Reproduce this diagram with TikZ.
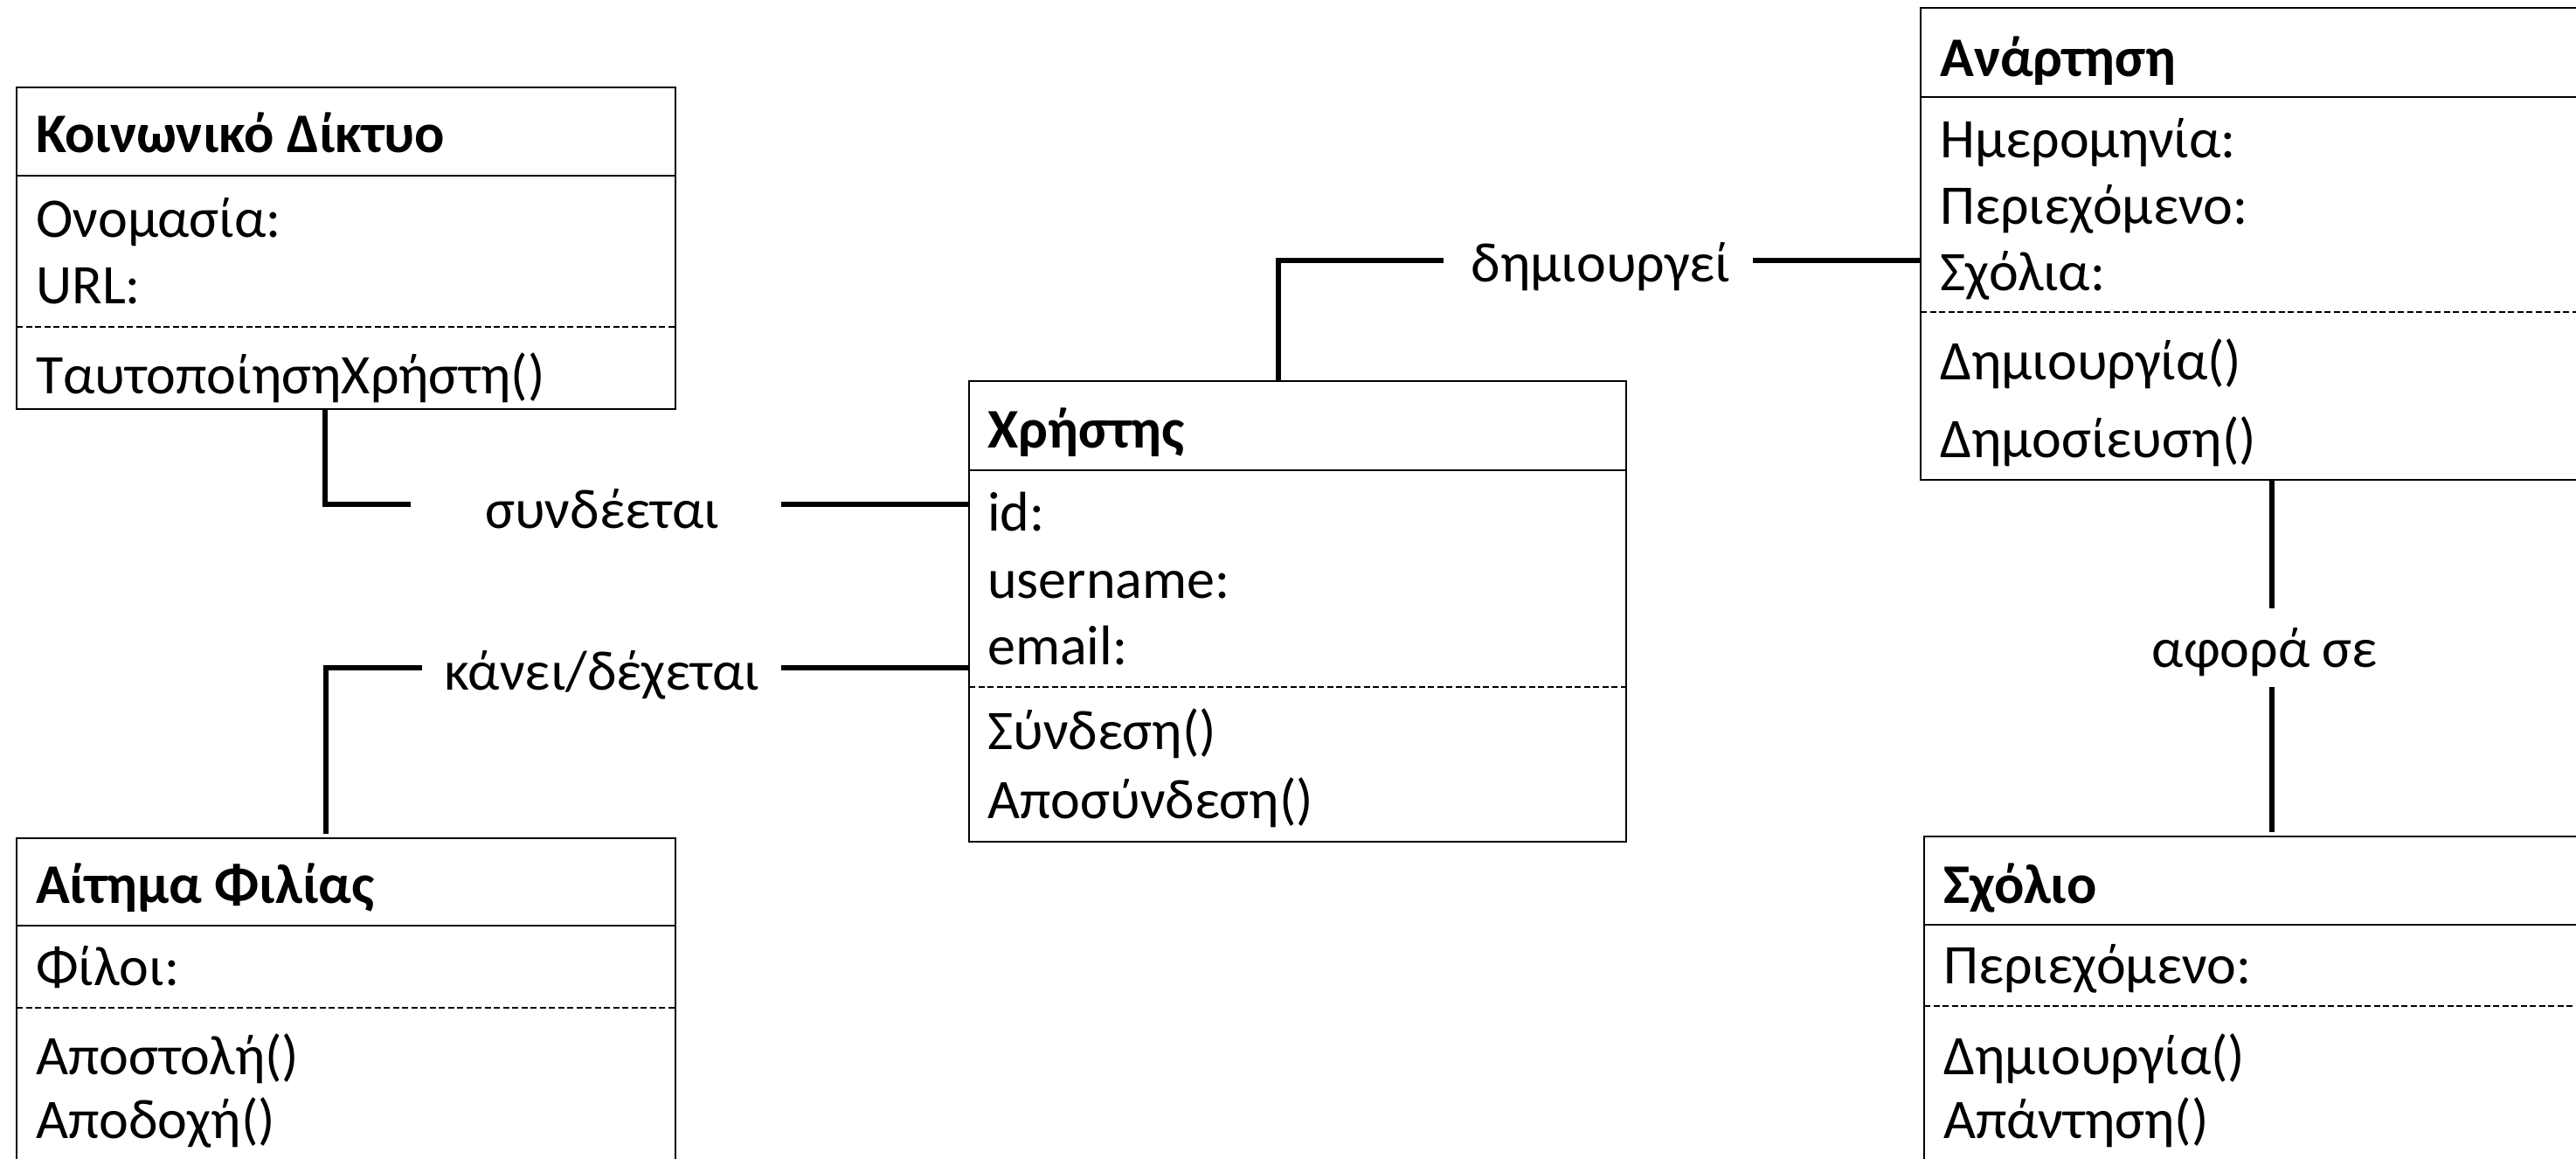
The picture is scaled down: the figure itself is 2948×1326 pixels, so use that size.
\documentclass[tikz,border=0pt]{standalone}
\usepackage{fontspec}
\setmainfont{Carlito}
\begin{document}
\begin{tikzpicture}[x=1bp,y=-1bp,
  every node/.style={font=\fontsize{64bp}{76bp}\selectfont},
  box/.style={draw, line width=2.8bp, anchor=north west, inner sep=0pt, outer sep=0pt},
  title/.style={anchor=base west, inner sep=0pt, font=\fontsize{64bp}{76bp}\selectfont\bfseries},
  entry/.style={anchor=base west, inner sep=0pt},
  rule/.style={line width=2.8bp},
  dashrule/.style={line width=2bp, dash pattern=on 7bp off 3.5bp},
  link/.style={line width=5.5bp},
  linklabel/.style={anchor=base, inner sep=0pt}
]
\useasboundingbox (0,0) rectangle (2948,1326);
\clip (0,0) rectangle (2948,1326);

% --- class boxes ---
\node[box, minimum width=754bp, minimum height=368bp] (net) at (19,100) {};
\node[box, minimum width=752bp, minimum height=527bp] (user) at (1109,436) {};
\node[box, minimum width=800bp, minimum height=540bp] (post) at (2198,9) {};
\node[box, minimum width=800bp, minimum height=450bp] (comment) at (2202,957) {};
\node[box, minimum width=754bp, minimum height=450bp] (friend) at (19,959) {};

% --- compartments ---
\draw[rule] (net.west |- 0,201) -- (net.east |- 0,201);
\draw[dashrule] (net.west |- 0,374) -- (net.east |- 0,374);
\draw[rule] (user.west |- 0,538) -- (user.east |- 0,538);
\draw[dashrule] (user.west |- 0,786) -- (user.east |- 0,786);
\draw[rule] (post.west |- 0,111) -- (post.east |- 0,111);
\draw[dashrule] (post.west |- 0,357) -- (post.east |- 0,357);
\draw[rule] (comment.west |- 0,1058) -- (comment.east |- 0,1058);
\draw[dashrule] (comment.west |- 0,1151) -- (comment.east |- 0,1151);
\draw[rule] (friend.west |- 0,1059) -- (friend.east |- 0,1059);
\draw[dashrule] (friend.west |- 0,1153) -- (friend.east |- 0,1153);

% --- Κοινωνικό Δίκτυο ---
\node[title] (netT) at (41,175) {Κοινωνικό Δίκτυο};
\node[entry] (netA1) at (41,272) {Ονομασία:};
\node[entry] (netA2) at (41,348) {URL:};
\node[entry] (netM1) at (41,450) {ΤαυτοποίησηΧρήστη()};

% --- Χρήστης ---
\node[title] (userT) at (1130,512) {Χρήστης};
\node[entry] (userA1) at (1130,607) {id:};
\node[entry] (userA2) at (1130,684) {username:};
\node[entry] (userA3) at (1130,760) {email:};
\node[entry] (userM1) at (1130,857) {Σύνδεση()};
\node[entry] (userM2) at (1130,936) {Αποσύνδεση()};

% --- Ανάρτηση ---
\node[title] (postT) at (2220,88) {Ανάρτηση};
\node[entry] (postA1) at (2220,181) {Ημερομηνία:};
\node[entry] (postA2) at (2220,257) {Περιεχόμενο:};
\node[entry] (postA3) at (2220,333) {Σχόλια:};
\node[entry] (postM1) at (2220,434) {Δημιουργία()};
\node[entry] (postM2) at (2220,523) {Δημοσίευση()};

% --- Σχόλιο ---
\node[title] (comT) at (2224,1033) {Σχόλιο};
\node[entry] (comA1) at (2224,1125) {Περιεχόμενο:};
\node[entry] (comM1) at (2224,1229) {Δημιουργία()};
\node[entry] (comM2) at (2224,1302) {Απάντηση()};

% --- Αίτημα Φιλίας ---
\node[title] (friT) at (41,1033) {Αίτημα Φιλίας};
\node[entry] (friA1) at (41,1127) {Φίλοι:};
\node[entry] (friM1) at (41,1229) {Αποστολή()};
\node[entry] (friM2) at (41,1302) {Αποδοχή()};

% --- association labels ---
\node[linklabel] (lconn) at (689,604) {συνδέεται};
\node[linklabel] (lreq) at (689,789) {κάνει/δέχεται};
\node[linklabel] (lcreate) at (1832,323) {δημιουργεί};
\node[linklabel] (labout) at (2592,763) {αφορά σε};

% --- associations ---
\coordinate (b1) at (372,577); \coordinate (e1) at (470,577); \coordinate (s1) at (894,577);
\draw[link] (b1 |- net.south) -- (b1) -- (e1);
\draw[link] (s1) -- (s1 -| user.west);

\coordinate (b2) at (373,764); \coordinate (e2) at (483,764); \coordinate (s2) at (894,764);
\draw[link, shorten <=5bp] (b2 |- friend.north) -- (b2) -- (e2);
\draw[link] (s2) -- (s2 -| user.west);

\coordinate (b3) at (1463,298); \coordinate (e3) at (1652,298); \coordinate (s3) at (2006,298);
\draw[link] (b3 |- user.north) -- (b3) -- (e3);
\draw[link] (s3) -- (s3 -| post.west);

\coordinate (b4) at (2600,696); \coordinate (s4) at (2600,786);
\draw[link] (b4 |- post.south) -- (b4);
\draw[link, shorten >=5bp] (s4) -- (s4 |- comment.north);
\end{tikzpicture}
\end{document}
